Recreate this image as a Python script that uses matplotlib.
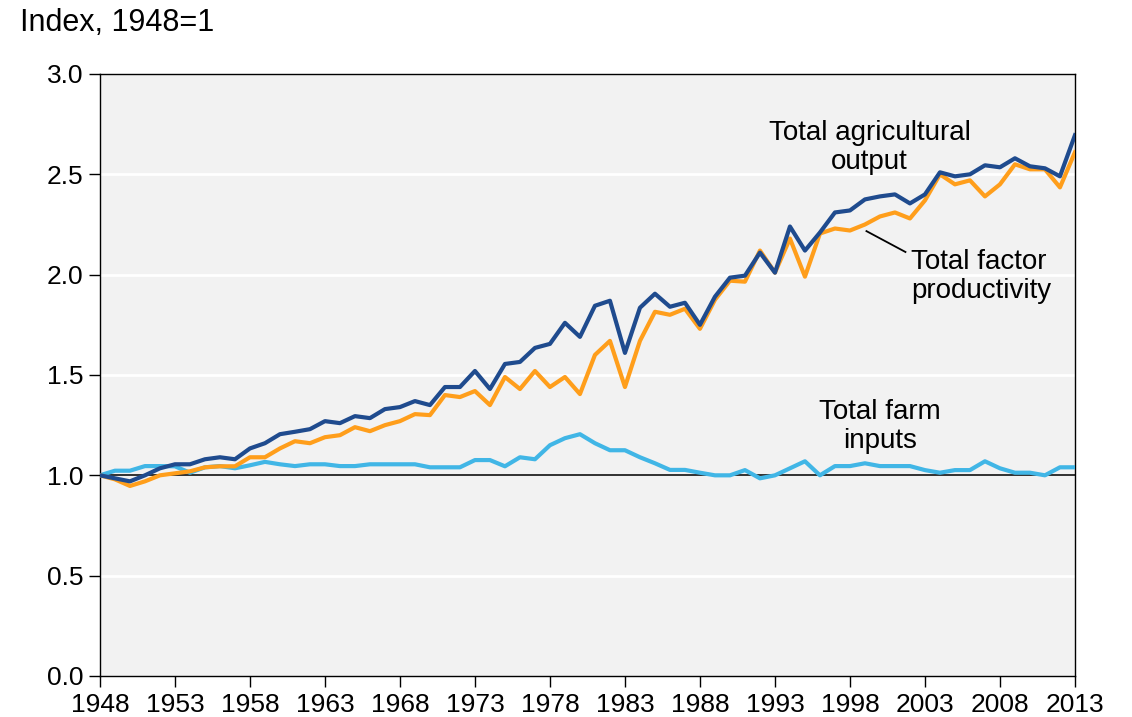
import matplotlib
matplotlib.use("Agg")
import matplotlib.pyplot as plt

plt.rcParams['font.family'] = ['Liberation Sans', 'DejaVu Sans']

years = list(range(1948, 2014))

# Total agricultural output
output = [1.00, 0.985, 0.97, 1.00, 1.035, 1.055, 1.055, 1.08, 1.09, 1.08,
          1.134, 1.16, 1.205, 1.217, 1.23, 1.27, 1.26, 1.295, 1.285, 1.33,
          1.34, 1.37, 1.35, 1.44, 1.44, 1.52, 1.43, 1.555, 1.565, 1.635,
          1.655, 1.76, 1.69, 1.845, 1.87, 1.61, 1.835, 1.905, 1.84, 1.86,
          1.75, 1.89, 1.985, 1.995, 2.11, 2.01, 2.24, 2.12, 2.21, 2.31,
          2.32, 2.375, 2.39, 2.40, 2.355, 2.40, 2.51, 2.49, 2.50, 2.545,
          2.535, 2.58, 2.54, 2.53, 2.49, 2.695]

# Total factor productivity
tfp = [1.00, 0.98, 0.947, 0.97, 1.00, 1.01, 1.02, 1.04, 1.045, 1.045,
       1.09, 1.09, 1.134, 1.17, 1.16, 1.19, 1.20, 1.24, 1.22, 1.25,
       1.27, 1.305, 1.30, 1.40, 1.39, 1.42, 1.35, 1.49, 1.43, 1.52,
       1.44, 1.49, 1.405, 1.60, 1.67, 1.44, 1.67, 1.815, 1.80, 1.83,
       1.73, 1.875, 1.97, 1.965, 2.12, 2.01, 2.18, 1.99, 2.205, 2.23,
       2.22, 2.25, 2.29, 2.31, 2.28, 2.37, 2.50, 2.45, 2.47, 2.39,
       2.45, 2.55, 2.525, 2.525, 2.435, 2.61]

# Total farm inputs
inputs = [1.00, 1.023, 1.023, 1.046, 1.046, 1.045, 1.013, 1.04, 1.046, 1.035,
          1.05, 1.067, 1.055, 1.046, 1.055, 1.055, 1.046, 1.046, 1.055, 1.055,
          1.055, 1.055, 1.04, 1.04, 1.04, 1.076, 1.076, 1.045, 1.09, 1.08,
          1.15, 1.185, 1.205, 1.16, 1.125, 1.125, 1.09, 1.06, 1.027, 1.027,
          1.013, 1.00, 1.00, 1.026, 0.985, 1.00, 1.035, 1.07, 1.00, 1.046,
          1.046, 1.06, 1.046, 1.046, 1.046, 1.026, 1.013, 1.026, 1.026, 1.07,
          1.035, 1.013, 1.013, 1.00, 1.04, 1.04]

xticks = list(range(1948, 2014, 5))
yticks = [0.0, 0.5, 1.0, 1.5, 2.0, 2.5, 3.0]

c_output = '#1f4b8e'
c_tfp = '#ff9e1b'
c_inputs = '#41b6e6'

fig = plt.figure(figsize=(11.32, 7.17), dpi=100)
ax = fig.add_axes([0.0883, 0.0572, 0.8613, 0.8396])
ax.set_facecolor('#f2f2f2')

for y in yticks:
    if y not in (0.0, 1.0, 3.0):
        ax.axhline(y, color='white', linewidth=2, zorder=1)
ax.axhline(1.0, color='#222222', linewidth=1.3, zorder=2)

ax.plot(years, inputs, color=c_inputs, linewidth=3, zorder=3)
ax.plot(years, tfp, color=c_tfp, linewidth=3, zorder=4)
ax.plot(years, output, color=c_output, linewidth=3, zorder=5)

ax.set_xlim(1948, 2013)
ax.set_ylim(0, 3.0)
ax.set_xticks(xticks)
ax.set_xticklabels([str(x) for x in xticks])
ax.set_yticks(yticks)
ax.set_yticklabels(['%.1f' % y for y in yticks])
ax.tick_params(direction='out', length=8, width=1, labelsize=19, colors='black')
ax.tick_params(axis='x', pad=4)
ax.tick_params(axis='y', pad=4)
for s in ax.spines.values():
    s.set_color('black')
    s.set_linewidth(1)

ax.text(1999.3, 2.635, 'Total agricultural\noutput', ha='center', va='center',
        fontsize=20, linespacing=1.15)
ax.text(2002.1, 1.99, 'Total factor\nproductivity', ha='left', va='center',
        fontsize=20, linespacing=1.15)
ax.text(2000.0, 1.245, 'Total farm\ninputs', ha='center', va='center',
        fontsize=20, linespacing=1.15)
ax.plot([1999.1, 2001.7], [2.217, 2.113], color='black', linewidth=1.3, zorder=6)

fig.text(0.018, 0.968, 'Index, 1948=1', ha='left', va='center', fontsize=22)

fig.savefig('out.png', dpi=100)
